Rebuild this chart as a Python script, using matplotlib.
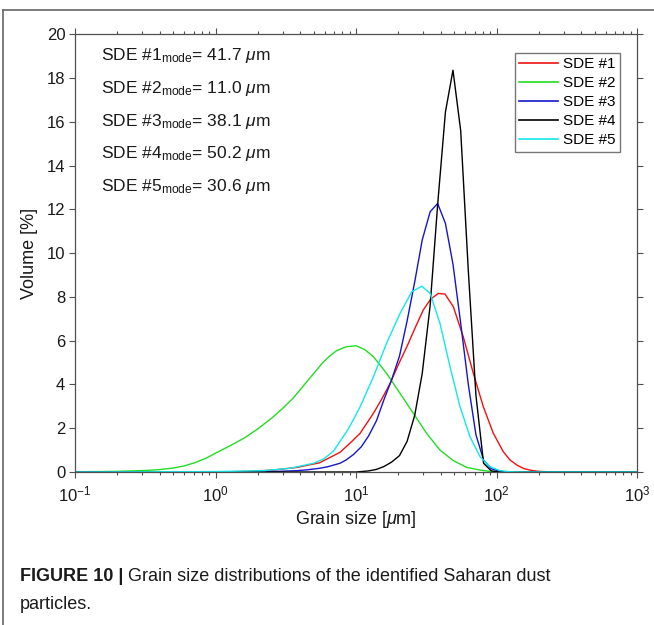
import matplotlib
matplotlib.use('Agg')
import matplotlib.pyplot as plt
from matplotlib.lines import Line2D
from matplotlib.ticker import LogLocator, NullFormatter, FixedLocator, FixedFormatter

plt.rcParams['font.family'] = ['Liberation Sans', 'DejaVu Sans']
plt.rcParams['mathtext.fontset'] = 'custom'
plt.rcParams['mathtext.rm'] = 'Liberation Sans'
plt.rcParams['mathtext.it'] = 'Liberation Sans:italic'
plt.rcParams['mathtext.bf'] = 'Liberation Sans:bold'

# ---------------- data (grain size in um, volume in %) ----------------
sde1_size = [0.1, 1.0, 1.76, 2.58, 3.8, 5.5, 7.7, 9.0, 10.7, 13.3, 15.3, 17.5, 20.0, 23.0,
             26.2, 30.1, 34.0, 38.5, 43.0, 49.3, 58.0, 68.4, 80.6, 94.9, 111.7, 124.7,
             141, 158, 178, 200, 250, 1000]
sde1_vol = [0.0, 0.0, 0.03, 0.09, 0.21, 0.42, 0.9, 1.3, 1.77, 2.68, 3.35, 4.05, 4.9, 5.72,
            6.55, 7.40, 7.9, 8.16, 8.13, 7.55, 6.18, 4.51, 2.98, 1.77, 0.93, 0.55,
            0.3, 0.15, 0.07, 0.03, 0.0, 0.0]

sde2_size = [0.1, 0.2, 0.32, 0.4, 0.5, 0.6, 0.71, 0.85, 1.0, 1.27, 1.6, 2.0, 2.5, 3.0, 3.6,
             4.3, 5.0, 5.8, 6.5, 7.3, 8.5, 10.0, 11.5, 13.3, 16.5, 20.6, 25.6, 31.8, 39.6,
             49.3, 61.4, 76.4, 89, 112, 1000]
sde2_vol = [0.01, 0.03, 0.07, 0.11, 0.18, 0.28, 0.42, 0.62, 0.86, 1.2, 1.55, 1.97, 2.45, 2.9,
            3.4, 4.0, 4.5, 5.0, 5.3, 5.55, 5.72, 5.77, 5.6, 5.27, 4.51, 3.59, 2.68, 1.77,
            1.00, 0.52, 0.21, 0.09, 0.03, 0.0, 0.0]

sde3_size = [0.1, 1.0, 2.0, 2.8, 3.8, 4.5, 5.5, 6.3, 7.7, 8.5, 9.6, 10.9, 12.3, 14.0,
             15.8, 17.9, 20.4, 23.1, 26.2, 29.6, 33.7, 38.1, 43.3, 49.0, 55.6, 63.0,
             71.4, 80.9, 91.8, 104, 117.5, 1000]
sde3_vol = [0.0, 0.0, 0.01, 0.03, 0.06, 0.1, 0.17, 0.24, 0.40, 0.55, 0.8, 1.15, 1.65, 2.35,
            3.3, 4.2, 5.3, 6.9, 8.7, 10.6, 11.89, 12.27, 11.36, 9.5, 6.8, 4.0,
            1.7, 0.55, 0.15, 0.04, 0.0, 0.0]

sde4_size = [0.1, 10.0, 10.9, 12.3, 14.0, 15.8, 17.9, 20.4, 23.1, 26.2, 29.6, 33.7, 38.1,
             43.3, 49.0, 55.6, 63.0, 71.4, 80.9, 91.8, 104, 1000]
sde4_vol = [0.0, 0.0, 0.02, 0.05, 0.12, 0.25, 0.45, 0.75, 1.4, 2.6, 4.5, 7.6, 12.2,
            16.45, 18.36, 15.6, 9.2, 3.5, 0.4, 0.05, 0.0, 0.0]

sde5_size = [0.1, 1.0, 2.2, 3.4, 5.0, 5.9, 6.9, 7.7, 8.6, 9.6, 10.7, 13.3, 16.5, 20.6,
             24.9, 29.4, 33.7, 39.6, 46.7, 55.0, 64.8, 76.4, 90.0, 106, 126, 158, 1000]
sde5_vol = [0.0, 0.02, 0.06, 0.17, 0.40, 0.6, 0.95, 1.4, 1.85, 2.4, 2.98, 4.35, 5.88, 7.25,
            8.23, 8.49, 8.16, 6.79, 4.81, 2.98, 1.61, 0.70, 0.24, 0.06, 0.01, 0.0, 0.0]

series_labels = ['SDE #1', 'SDE #2', 'SDE #3', 'SDE #4', 'SDE #5']
mode_values = [41.7, 11.0, 38.1, 50.2, 30.6]

x_tick_values = [0.1, 1, 10, 100, 1000]
x_tick_labels = [r'$10^{-1}$', r'$10^{0}$', r'$10^{1}$', r'$10^{2}$', r'$10^{3}$']
y_tick_values = [0, 2, 4, 6, 8, 10, 12, 14, 16, 18, 20]

colors = ['#ee1111', '#22dd22', '#1515cc', '#000000', '#11e8e8']

# ---------------- figure ----------------
W, H = 654, 625
fig = plt.figure(figsize=(W / 100, H / 100), dpi=100)

def fx(px):
    return px / W

def fy(py):
    return 1 - py / H

ax_l, ax_r, ax_t, ax_b = 75, 637, 34.3, 472
ax = fig.add_axes([fx(ax_l), fy(ax_b), fx(ax_r) - fx(ax_l), fy(ax_t) - fy(ax_b)])

sizes = [sde1_size, sde2_size, sde3_size, sde4_size, sde5_size]
vols = [sde1_vol, sde2_vol, sde3_vol, sde4_vol, sde5_vol]
for s, v, c, lab in zip(sizes, vols, colors, series_labels):
    ax.plot(s, v, color=c, lw=1.0, label=lab)

ax.set_xscale('log')
ax.set_xlim(0.1, 1000)
ax.set_ylim(0, 20)
ax.xaxis.set_major_locator(FixedLocator(x_tick_values))
ax.xaxis.set_major_formatter(FixedFormatter(x_tick_labels))
ax.xaxis.set_minor_locator(LogLocator(base=10, subs=range(2, 10), numticks=20))
ax.xaxis.set_minor_formatter(NullFormatter())
ax.yaxis.set_major_locator(FixedLocator(y_tick_values))

axcol = '#505050'
for sp in ax.spines.values():
    sp.set_color(axcol)
    sp.set_linewidth(0.9)
ax.tick_params(which='both', direction='out', top=True, right=True, color=axcol, width=0.8)
ax.tick_params(which='major', length=4.0, labelsize=12, labelcolor='#1a1a1a', pad=3)
ax.tick_params(which='minor', length=2.2)
ax.tick_params(axis='x', which='major', pad=5)

ax.set_xlabel(r'Grain size [$\mu$m]', fontsize=13, color='#1a1a1a', labelpad=3)
ax.set_ylabel('Volume [%]', fontsize=13, color='#1a1a1a', labelpad=6)

# mode annotations
for i, (lab, mv) in enumerate(zip(series_labels, mode_values)):
    ax.text(0.0457, 0.9422 - i * 0.0753, lab + r'$_{\mathrm{mode}}$= ' + f'{mv:.1f} ' + r'$\mu$m',
            transform=ax.transAxes, fontsize=12.5, va='baseline', ha='left', color='#1a1a1a')

leg = ax.legend(loc='upper right', bbox_to_anchor=(0.9698, 0.958), borderaxespad=0,
                fontsize=11, handlelength=2.55, handletextpad=0.3, labelspacing=0.33,
                borderpad=0.3, fancybox=False, framealpha=1)
leg.get_frame().set_edgecolor('#777777')
leg.get_frame().set_linewidth(1.0)
for lh in leg.get_lines():
    lh.set_linewidth(1.2)

# figure frame lines
fig.add_artist(Line2D([fx(3), 1.0], [fy(10), fy(10)], color='#666666', lw=1.2))
fig.add_artist(Line2D([fx(3), fx(3)], [fy(10), 0.0], color='#666666', lw=1.2))

# caption
cap_fam = ['Liberation Sans Narrow', 'Liberation Sans', 'DejaVu Sans']
t1 = fig.text(fx(20), fy(585), 'FIGURE 10 |', fontsize=13, weight='bold', family=cap_fam,
              va='bottom', ha='left', color='#1a1a1a')
fig.add_artist(matplotlib.text.Annotation(' Grain size distributions of the identified Saharan dust',
                                          xy=(1, 0), xycoords=t1, va='bottom', ha='left',
                                          fontsize=13, family=cap_fam, color='#1a1a1a'))
fig.text(fx(20), fy(613), 'particles.', fontsize=13, family=cap_fam, va='bottom', ha='left',
         color='#1a1a1a')

fig.savefig('out.png', dpi=100)
